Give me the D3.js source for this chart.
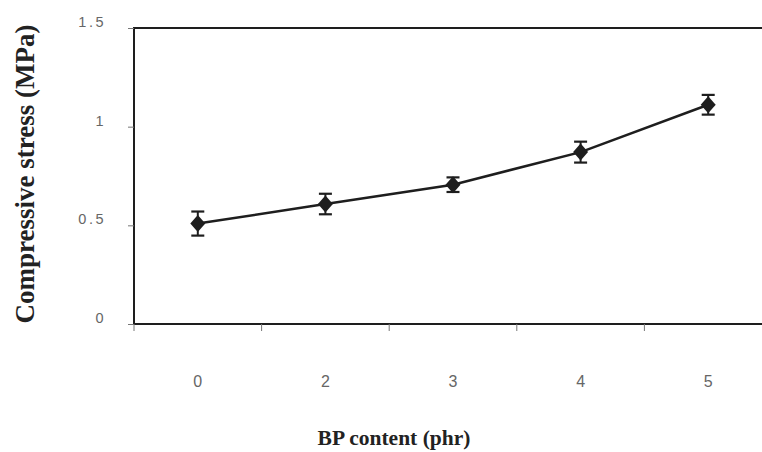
<!DOCTYPE html>
<html><head><meta charset="utf-8">
<script src="https://cdn.jsdelivr.net/npm/d3@7"></script>
<style>body{margin:0;background:#fff}svg{display:block}</style>
</head><body>
<script>
const categories = ["0","2","3","4","5"];
const stressValues = [0.509, 0.608, 0.706, 0.871, 1.111];
const stressErrors = [0.061, 0.052, 0.037, 0.053, 0.050];
const yTicks = [0, 0.5, 1, 1.5];
const yTickLabels = ["0","0.5","1","1.5"];

(function(){
const W = 762, H = 452;
const pLeft = 134, pTop = 28, pBottom = 324, pRight = 772;
const svg = d3.select("body").append("svg").attr("width", W).attr("height", H);

const x = d3.scaleBand().domain(categories).range([pLeft, pRight]);
const y = d3.scaleLinear().domain([0, 1.5]).range([pBottom, pTop]);
const ink = "#1e1e1e";
const tickFont = "Liberation Sans, Arial, sans-serif";

// frame
svg.append("rect").attr("x", pLeft).attr("y", pTop).attr("width", pRight-pLeft).attr("height", pBottom-pTop)
  .attr("fill","none").attr("stroke", ink).attr("stroke-width", 2);

// y axis
const ya = svg.append("g").attr("transform", `translate(${pLeft},0)`)
  .call(d3.axisLeft(y).tickValues(yTicks).tickSize(6).tickPadding(22).tickFormat((d,i)=>yTickLabels[i]));
ya.select(".domain").remove();
ya.selectAll("line").attr("stroke","#777");
ya.selectAll("text").attr("font-family",tickFont).attr("font-size",14.5)
  .attr("fill","#666").attr("letter-spacing","2.5px").attr("dy","-0.1em");

// x axis (ticks between categories)
const xa = svg.append("g").attr("transform", `translate(0,${pBottom})`);
const bounds = categories.map(c => x(c)).concat([pRight]);
xa.selectAll("line").data(bounds).join("line")
  .attr("x1", d=>d).attr("x2", d=>d).attr("y1",0).attr("y2",7).attr("stroke","#777");
xa.selectAll("text").data(categories).join("text")
  .attr("x", d => x(d) + x.bandwidth()/2).attr("y", 63)
  .attr("text-anchor","middle").attr("font-family",tickFont)
  .attr("font-size",16).attr("fill","#666").text(d=>d);

// line
const pts = categories.map((c,i)=>({c, v: stressValues[i], e: stressErrors[i]}));
const cx = d => x(d.c) + x.bandwidth()/2;
svg.append("path").datum(pts)
  .attr("d", d3.line().x(cx).y(d=>y(d.v)))
  .attr("fill","none").attr("stroke", ink).attr("stroke-width", 2.5);

// error bars
const eb = svg.append("g").selectAll("g").data(pts).join("g");
eb.append("line").attr("x1",cx).attr("x2",cx).attr("y1",d=>y(d.v+d.e)).attr("y2",d=>y(d.v-d.e))
  .attr("stroke",ink).attr("stroke-width",2);
eb.append("line").attr("x1",d=>cx(d)-6.5).attr("x2",d=>cx(d)+6.5).attr("y1",d=>y(d.v+d.e)).attr("y2",d=>y(d.v+d.e))
  .attr("stroke",ink).attr("stroke-width",2.2);
eb.append("line").attr("x1",d=>cx(d)-6.5).attr("x2",d=>cx(d)+6.5).attr("y1",d=>y(d.v-d.e)).attr("y2",d=>y(d.v-d.e))
  .attr("stroke",ink).attr("stroke-width",2.2);

// diamonds
svg.append("g").selectAll("path").data(pts).join("path")
  .attr("transform", d=>`translate(${cx(d)},${y(d.v)})`)
  .attr("d", "M0,-8.5L7.5,0L0,8.5L-7.5,0Z").attr("fill", ink);

// titles
svg.append("text").attr("transform","translate(34,174) rotate(-90)")
  .attr("text-anchor","middle").attr("font-family","Liberation Serif, Times New Roman, serif")
  .attr("font-weight","bold").attr("font-size",27).attr("fill","#222").text("Compressive stress (MPa)");
svg.append("text").attr("x",394).attr("y",445)
  .attr("text-anchor","middle").attr("font-family","Liberation Serif, Times New Roman, serif")
  .attr("font-weight","bold").attr("font-size",21.5).attr("fill","#222").text("BP content (phr)");
})();
</script>
</body></html>
